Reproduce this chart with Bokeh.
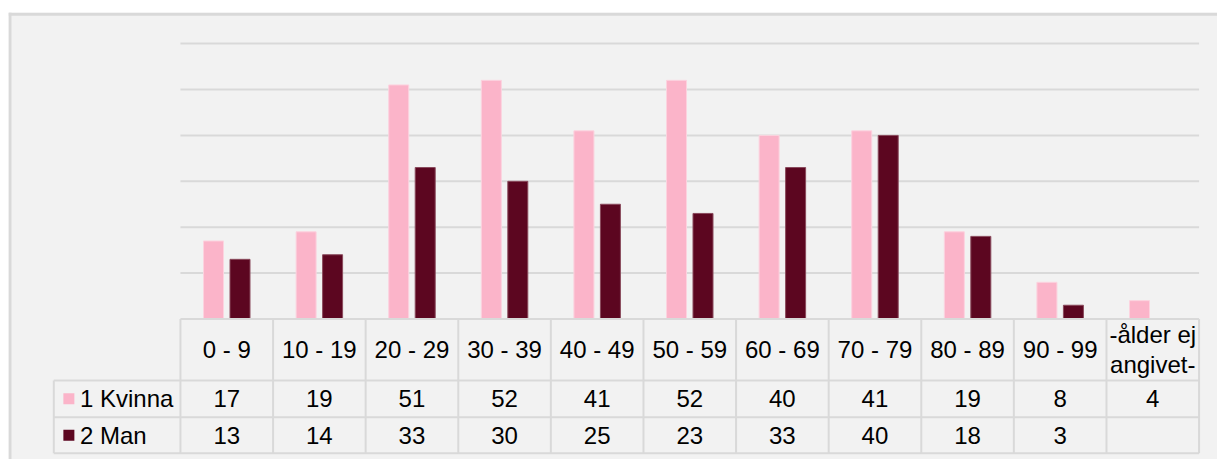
from bokeh.plotting import figure
from bokeh.models import Range1d, Span
from bokeh.core.properties import value
from bokeh.embed import file_html
from bokeh.resources import INLINE
import numpy as np

# Age groups and counts per sex
categories = ["0 - 9", "10 - 19", "20 - 29", "30 - 39", "40 - 49", "50 - 59",
              "60 - 69", "70 - 79", "80 - 89", "90 - 99", "-ålder ej\nangivet-"]
kvinna = [17, 19, 51, 52, 41, 52, 40, 41, 19, 8, 4]
man = [13, 14, 33, 30, 25, 23, 33, 40, 18, 3, None]
series_names = ["1 Kvinna", "2 Man"]
grid_values = [10, 20, 30, 40, 50, 60]

PINK = "#fbb4c9"
DARK = "#5c0620"
GRID = "#d9d9d9"
FONT = value("Liberation Sans")
SIZE = "24px"

n = len(categories)
centers = np.arange(n) + 0.5

# table rows sit below zero on the value axis
ROW_HEAD = -13.4
ROW_ONE = -21.4
ROW_TWO = -29.24
LEGEND_LEFT = -1.368

p = figure(width=1217, height=459, output_backend="svg", toolbar_location=None,
           x_range=Range1d(-1.857, 11.199), y_range=Range1d(-30.61, 66.78),
           min_border_left=8, min_border_top=12, min_border_right=0, min_border_bottom=0,
           background_fill_color="#f2f2f2", border_fill_color="white",
           outline_line_color=None)
p.xaxis.visible = False
p.yaxis.visible = False
p.grid.visible = False

# panel edges
p.add_layout(Span(location=-1.841, dimension="height", line_color=GRID, line_width=3))
p.add_layout(Span(location=66.4, dimension="width", line_color=GRID, line_width=3))

# horizontal gridlines
p.segment(x0=[0] * len(grid_values), x1=[n] * len(grid_values),
          y0=grid_values, y1=grid_values, line_color=GRID, line_width=2)

# bars
man_top = [np.nan if v is None else v for v in man]
p.vbar(x=centers - 0.143, top=kvinna, bottom=0, width=0.216, fill_color=PINK,
       line_color="#fcd3df", line_width=1)
p.vbar(x=centers + 0.143, top=man_top, bottom=0, width=0.216, fill_color=DARK,
       line_color="#8a4a5c", line_width=1)

# data table grid
hx0 = [0, LEGEND_LEFT, LEGEND_LEFT, LEGEND_LEFT]
hx1 = [n, n, n, n]
hy = [0, ROW_HEAD, ROW_ONE, ROW_TWO]
p.segment(x0=hx0, x1=hx1, y0=hy, y1=hy, line_color=GRID, line_width=2)
vx = list(range(n + 1)) + [LEGEND_LEFT]
vy0 = [0] * (n + 1) + [ROW_HEAD]
vy1 = [ROW_TWO] * (n + 2)
p.segment(x0=vx, x1=vx, y0=vy0, y1=vy1, line_color=GRID, line_width=2)

# category labels
p.text(x=centers, y=[ROW_HEAD / 2] * n, text=categories, text_font=FONT,
       text_font_size=SIZE, text_align="center", text_baseline="middle",
       text_color="black", text_line_height=1.12)

# value rows
y1 = (ROW_HEAD + ROW_ONE) / 2
y2 = (ROW_ONE + ROW_TWO) / 2
p.text(x=centers, y=[y1] * n, text=[str(v) for v in kvinna], text_font=FONT,
       text_font_size=SIZE, text_align="center", text_baseline="middle",
       text_color="black")
p.text(x=centers, y=[y2] * n, text=["" if v is None else str(v) for v in man],
       text_font=FONT, text_font_size=SIZE, text_align="center",
       text_baseline="middle", text_color="black")

# legend keys in the table
p.rect(x=[-1.205, -1.205], y=[y1, y2], width=11, height=11, width_units="screen",
       height_units="screen", fill_color=[PINK, DARK], line_color=None)
p.text(x=[-1.085, -1.085], y=[y1, y2], text=series_names, text_font=FONT,
       text_font_size=SIZE, text_align="left", text_baseline="middle",
       text_color="black")

open("out.html", "w").write(file_html(p, INLINE))
